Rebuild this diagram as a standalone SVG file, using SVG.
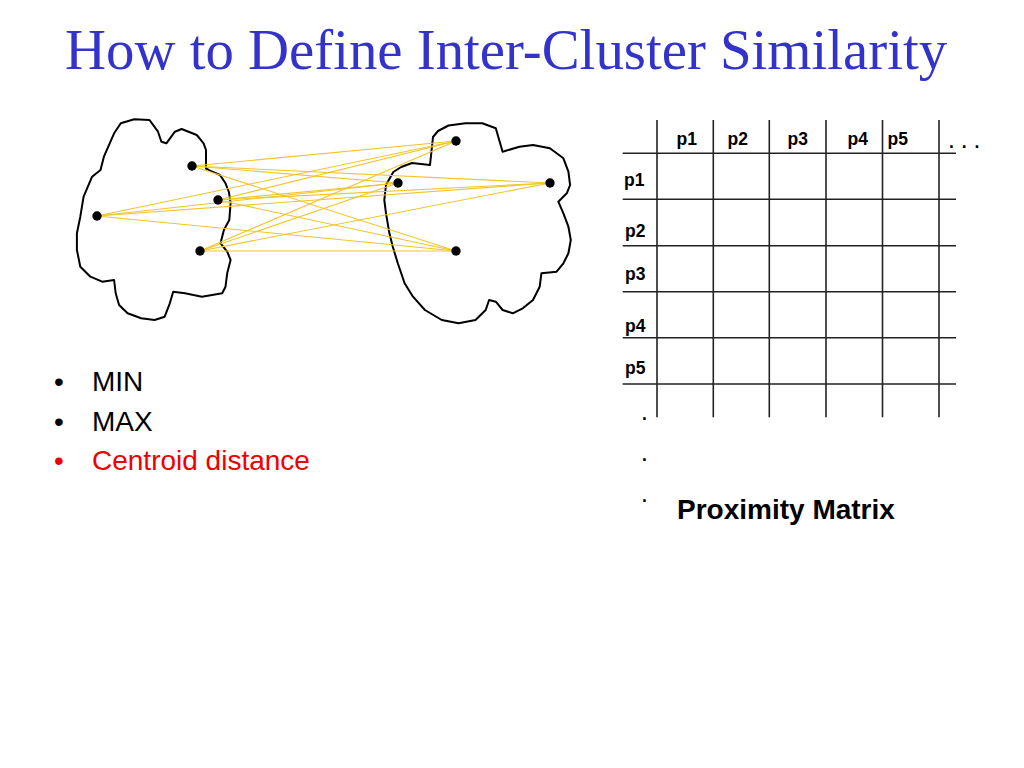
<svg xmlns="http://www.w3.org/2000/svg" width="1024" height="768" viewBox="0 0 1024 768">
<style>
.cloud{fill:none;stroke:#000;stroke-width:2;stroke-linejoin:round}
.pt{fill:#000}
.edge{stroke:#F2C52A;stroke-width:1.1;fill:none}
.grid line{stroke:#222;stroke-width:1.6}
.lbl{font-family:"Liberation Sans",Arial,sans-serif;font-weight:bold;font-size:17.5px;fill:#000}
.bul{font-family:"Liberation Sans",Arial,sans-serif;font-size:28px}
</style>
<rect width="1024" height="768" fill="#fff"/>
<text x="65" y="69" font-family="'Liberation Serif','Times New Roman',serif" font-size="56.8" fill="#3333CC">How to Define Inter-Cluster Similarity</text>

<g id="cluster-left">
<path class="cloud" d="M120.8,123.3 L134.3,119.3 L149.5,120 L158,131.7 L161.4,141.7 L166.4,143.3 L174.9,131.7 L181.6,129 L196.8,135 L203.6,143.3 L206,150 L206,168.5 L210,170.7 L220,175 L225.5,183.3 L228.9,192 L230.6,203 L229.3,220 L223.9,230 L220.5,243.3 L227.2,251.7 L230.6,260 L227.2,273.3 L225.5,286.7 L222.2,293.3 L201.9,296.7 L185,293.3 L173.2,291.7 L169.8,303.3 L164.7,316.7 L154.6,320 L141.1,318.3 L127.6,313.3 L119.1,305 L115.7,293.3 L114.1,280 L102.2,281.7 L90.4,276.7 L80.3,266.7 L76.9,250 L76.9,233.3 L80.3,216.7 L83.6,196.7 L92.1,176.7 L100.5,170 L103.9,156.7 L114.1,133.3 Z"/>
</g>
<g id="cluster-right">
<path class="cloud" d="M438,131 L448.5,125.5 L465.4,123.3 L482.3,123.3 L495.8,128.3 L499.2,140 L502.6,151.7 L519.5,146.7 L533,145 L549.9,148.3 L563.4,158.3 L568.4,171.7 L570.1,185 L566.8,193.3 L558.3,201.7 L563.4,213.3 L568.4,226.7 L570.8,240 L568.4,253.3 L563.4,263.3 L556.6,271.7 L541.4,273.3 L539.7,286.7 L533,300 L522.8,308.3 L512.7,313.3 L502.6,310 L495.8,301.7 L489.1,300 L485.7,310 L475.5,320 L458.6,323.3 L441.8,320 L424.9,310 L413,296.7 L404.6,283.3 L397.8,263.3 L392.8,246.7 L389.4,233.3 L386,213.3 L384.3,200 L386,185 L393.3,172 L401.2,167 L412,163 L430,165 L433,137 Z"/>
</g>

<g id="connectors">
<line class="edge" x1="192" y1="166" x2="456" y2="141"/>
<line class="edge" x1="192" y1="166" x2="398" y2="183"/>
<line class="edge" x1="192" y1="166" x2="550" y2="183"/>
<line class="edge" x1="192" y1="166" x2="456" y2="251"/>
<line class="edge" x1="218" y1="200" x2="456" y2="141"/>
<line class="edge" x1="218" y1="200" x2="398" y2="183"/>
<line class="edge" x1="218" y1="200" x2="550" y2="183"/>
<line class="edge" x1="218" y1="200" x2="456" y2="251"/>
<line class="edge" x1="97" y1="216" x2="456" y2="141"/>
<line class="edge" x1="97" y1="216" x2="398" y2="183"/>
<line class="edge" x1="97" y1="216" x2="550" y2="183"/>
<line class="edge" x1="97" y1="216" x2="456" y2="251"/>
<line class="edge" x1="200" y1="251" x2="456" y2="141"/>
<line class="edge" x1="200" y1="251" x2="398" y2="183"/>
<line class="edge" x1="200" y1="251" x2="550" y2="183"/>
<line class="edge" x1="200" y1="251" x2="456" y2="251"/>
</g>

<g id="points">
<circle class="pt" cx="192" cy="166" r="4.7"/>
<circle class="pt" cx="218" cy="200" r="4.7"/>
<circle class="pt" cx="97" cy="216" r="4.7"/>
<circle class="pt" cx="200" cy="251" r="4.7"/>
<circle class="pt" cx="456" cy="141" r="4.7"/>
<circle class="pt" cx="398" cy="183" r="4.7"/>
<circle class="pt" cx="550" cy="183" r="4.7"/>
<circle class="pt" cx="456" cy="251" r="4.7"/>
</g>

<g id="proximity-matrix">
<g class="grid">
<line x1="622.7" y1="153.3" x2="956" y2="153.3"/>
<line x1="622.7" y1="199.3" x2="956" y2="199.3"/>
<line x1="622.7" y1="245.7" x2="956" y2="245.7"/>
<line x1="622.7" y1="291.7" x2="956" y2="291.7"/>
<line x1="622.7" y1="337.7" x2="956" y2="337.7"/>
<line x1="622.7" y1="384" x2="956" y2="384"/>
<line x1="657" y1="120" x2="657" y2="417.3"/>
<line x1="713.3" y1="120" x2="713.3" y2="417.3"/>
<line x1="769.3" y1="120" x2="769.3" y2="417.3"/>
<line x1="826" y1="120" x2="826" y2="417.3"/>
<line x1="882.5" y1="120" x2="882.5" y2="417.3"/>
<line x1="939" y1="120" x2="939" y2="417.3"/>
</g>
<text class="lbl" x="676.5" y="145">p1</text>
<text class="lbl" x="727.5" y="145">p2</text>
<text class="lbl" x="787.5" y="145">p3</text>
<text class="lbl" x="847.5" y="145">p4</text>
<text class="lbl" x="887.5" y="145">p5</text>
<text class="lbl" x="949" y="148" letter-spacing="1.5">. . .</text>
<text class="lbl" x="624" y="186">p1</text>
<text class="lbl" x="625" y="237">p2</text>
<text class="lbl" x="625" y="280">p3</text>
<text class="lbl" x="625" y="332">p4</text>
<text class="lbl" x="625" y="374">p5</text>
<text class="lbl" x="642" y="420">.</text>
<text class="lbl" x="642" y="461">.</text>
<text class="lbl" x="642" y="502">.</text>
<text x="677" y="519" font-family="'Liberation Sans',Arial,sans-serif" font-weight="bold" font-size="28" fill="#000">Proximity Matrix</text>
</g>

<g id="bullets">
<text class="bul" x="54" y="391" fill="#000">•</text>
<text class="bul" x="92" y="391" fill="#000">MIN</text>
<text class="bul" x="54" y="431" fill="#000">•</text>
<text class="bul" x="92" y="431" fill="#000">MAX</text>
<text class="bul" x="54" y="470" fill="#F00000">•</text>
<text class="bul" x="92" y="470" fill="#F00000">Centroid distance</text>
</g>
</svg>
